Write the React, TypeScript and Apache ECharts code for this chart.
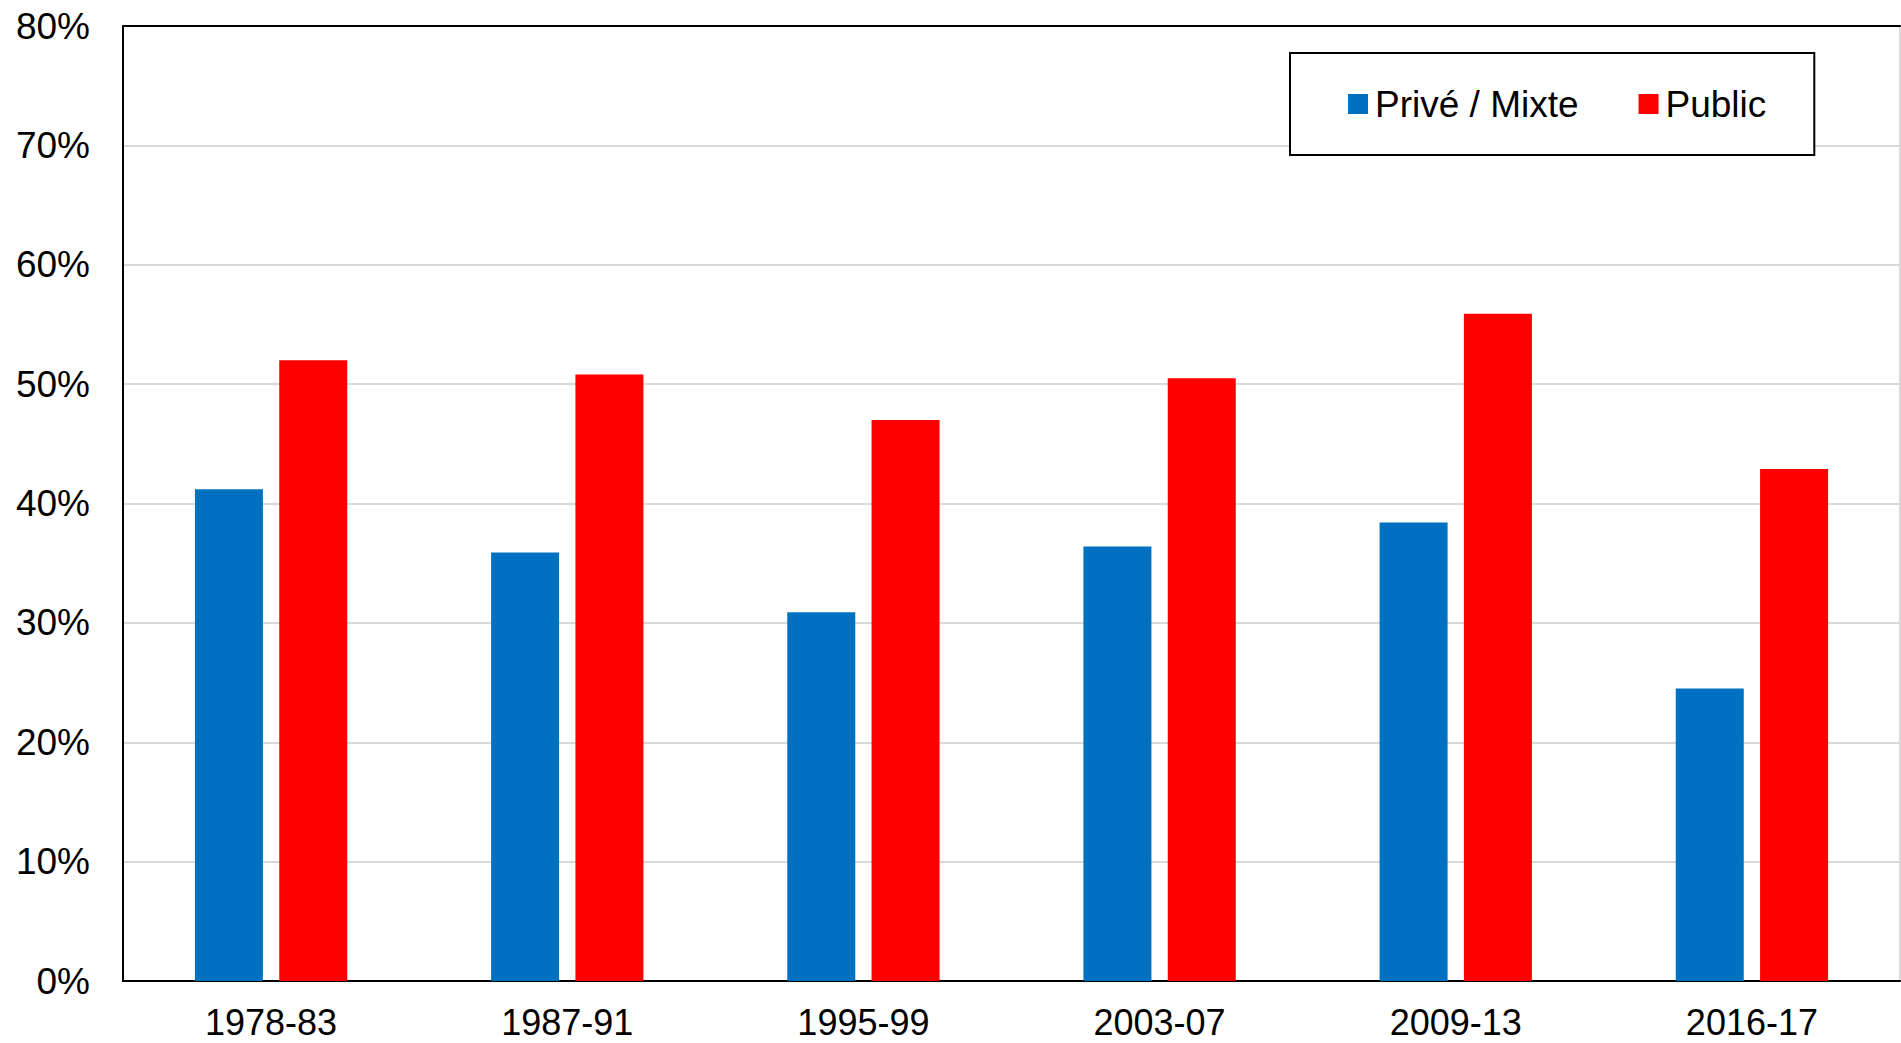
import React, { useEffect, useRef } from "react";
import * as echarts from "echarts";

const categories = ["1978-83", "1987-91", "1995-99", "2003-07", "2009-13", "2016-17"];
const priveMixte = [41.2, 35.9, 30.9, 36.4, 38.4, 24.5];
const publicVals = [52.0, 50.8, 47.0, 50.5, 55.9, 42.9];
const seriesNames = ["Privé / Mixte", "Public"];

const FONT = "'Liberation Sans', Arial, Helvetica, sans-serif";

export default function App() {
  const ref = useRef<HTMLDivElement>(null);
  useEffect(() => {
    if (!ref.current) return;
    const chart = echarts.init(ref.current, undefined, { renderer: "svg" });
    chart.setOption({
      animation: false,
      backgroundColor: "#ffffff",
      textStyle: { fontFamily: FONT },
      grid: {
        left: 123,
        top: 26,
        right: 1,
        bottom: 62,
        containLabel: false,
        outerBoundsMode: "none",
        show: true,
        borderColor: "#d9d9d9",
        borderWidth: 2,
        backgroundColor: "transparent",
      },
      legend: {
        left: 1290,
        top: 53,
        orient: "horizontal",
        padding: [31, 48, 31, 58],
        borderColor: "#000000",
        borderWidth: 2,
        backgroundColor: "#ffffff",
        itemWidth: 20,
        itemHeight: 20,
        itemGap: 60,
        icon: "rect",
        data: seriesNames,
        textStyle: { fontSize: 37, color: "#000000", fontFamily: FONT, lineHeight: 40, padding: [0, 0, 0, 2] },
      },
      xAxis: [
        {
          type: "category",
          data: categories,
          position: "bottom",
          axisLine: { show: true, lineStyle: { color: "#000000", width: 2 } },
          axisTick: { show: false },
          axisLabel: { fontSize: 36, lineHeight: 28, color: "#000000", margin: 27, fontFamily: FONT },
          splitLine: { show: false },
        },
        {
          type: "category",
          data: categories,
          position: "top",
          axisLine: { show: true, lineStyle: { color: "#000000", width: 2 } },
          axisTick: { show: false },
          axisLabel: { show: false },
          splitLine: { show: false },
        },
      ],
      yAxis: {
        type: "value",
        min: 0,
        max: 80,
        interval: 10,
        axisLine: { show: true, lineStyle: { color: "#000000", width: 2 } },
        axisTick: { show: false },
        axisLabel: { fontSize: 37, color: "#000000", margin: 33, formatter: "{value}%", fontFamily: FONT },
        splitLine: { show: true, lineStyle: { color: "#d9d9d9", width: 2 } },
      },
      series: [
        {
          name: seriesNames[0],
          type: "bar",
          data: priveMixte,
          barWidth: 68,
          barGap: "24%",
          itemStyle: { color: "#0070C0" },
        },
        {
          name: seriesNames[1],
          type: "bar",
          data: publicVals,
          barWidth: 68,
          barGap: "24%",
          itemStyle: { color: "#FF0000" },
        },
      ],
    });
    return () => chart.dispose();
  }, []);
  return (
    <div
      ref={ref}
      style={{ position: "fixed", left: 0, top: 0, width: 1901, height: 1043, background: "#fff" }}
    />
  );
}
